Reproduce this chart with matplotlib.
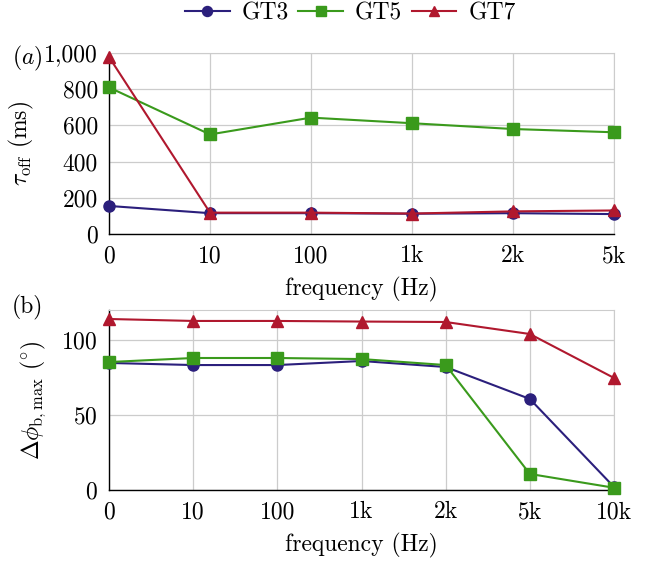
import matplotlib.pyplot as plt
import matplotlib.ticker as mticker

plt.rcParams['font.family'] = 'serif'
plt.rcParams['font.serif'] = ['cmr10']
plt.rcParams['mathtext.fontset'] = 'cm'
plt.rcParams['axes.formatter.use_mathtext'] = True
plt.rcParams['font.size'] = 17

# top panel: relaxation time
freq_a = ['0', '10', '100', '1k', '2k', '5k']
tau_gt3 = [155, 115, 115, 112, 115, 110]
tau_gt5 = [810, 550, 643, 612, 580, 562]
tau_gt7 = [978, 118, 118, 113, 125, 130]

# bottom panel: max phase shift
freq_b = ['0', '10', '100', '1k', '2k', '5k', '10k']
phi_gt3 = [84.7, 83.3, 83.3, 86.0, 82.0, 60.7, 2.0]
phi_gt5 = [85.3, 88.0, 88.0, 87.3, 83.3, 10.7, 1.5]
phi_gt7 = [114.0, 112.7, 112.7, 112.3, 112.0, 104.0, 74.7]

c3, c5, c7 = '#2b1f7c', '#3a9a1c', '#b0182e'
styles = [('GT3', c3, 'o', 8), ('GT5', c5, 's', 8), ('GT7', c7, '^', 8)]

fig = plt.figure(figsize=(6.46, 5.63), dpi=100)
ax1 = fig.add_axes([109/646, 1-234/563, 505/646, 181/563])
ax2 = fig.add_axes([109/646, 1-490/563, 505/646, 180/563])


def style_axis(ax):
    ax.grid(True, color='#cccccc', lw=0.9)
    ax.set_axisbelow(True)
    for s in ['top', 'right']:
        ax.spines[s].set_color('#cccccc')
    for s in ['left', 'bottom']:
        ax.spines[s].set_color('black')
        ax.spines[s].set_linewidth(1.0)
    ax.tick_params(length=0, pad=8)


lines = []
for (name, col, mk, ms), ys in zip(styles, [tau_gt3, tau_gt5, tau_gt7]):
    l, = ax1.plot(range(len(freq_a)), ys, color=col, marker=mk, ms=ms, lw=1.5,
                  label=name, clip_on=False, zorder=3)
    lines.append(l)
ax1.set_xlim(0, len(freq_a) - 1)
ax1.set_ylim(0, 1000)
ax1.set_xticks(range(len(freq_a)))
ax1.set_xticklabels(freq_a)
ax1.set_yticks([0, 200, 400, 600, 800, 1000])
ax1.yaxis.set_major_formatter(mticker.FuncFormatter(lambda v, p: f'{int(v):,}'))
ax1.set_xlabel('frequency (Hz)', labelpad=7)
ax1.set_ylabel(r'$\tau_{\rm off}$ (ms)', labelpad=6)
style_axis(ax1)
fig.text(12/646, 1-58/563, r'$(a)$', ha='left', va='center', fontsize=17)

for (name, col, mk, ms), ys in zip(styles, [phi_gt3, phi_gt5, phi_gt7]):
    ax2.plot(range(len(freq_b)), ys, color=col, marker=mk, ms=ms, lw=1.5,
             clip_on=False, zorder=3)
ax2.set_xlim(0, len(freq_b) - 1)
ax2.set_ylim(0, 120)
ax2.set_xticks(range(len(freq_b)))
ax2.set_xticklabels(freq_b)
ax2.set_yticks([0, 50, 100])
ax2.set_xlabel('frequency (Hz)', labelpad=7)
ax2.set_ylabel(r'$\Delta\phi_{\rm b,max}$ ($^{\circ}$)', labelpad=10)
style_axis(ax2)
fig.text(12/646, 1-307/563, '(b)', ha='left', va='center', fontsize=17)

fig.legend(handles=lines, loc='center', bbox_to_anchor=(0.542, 1-13/563), ncol=3,
           frameon=False, handlelength=1.9, columnspacing=0.4, handletextpad=0.5,
           markerscale=0.9)

fig.savefig('out.png', dpi=100)
